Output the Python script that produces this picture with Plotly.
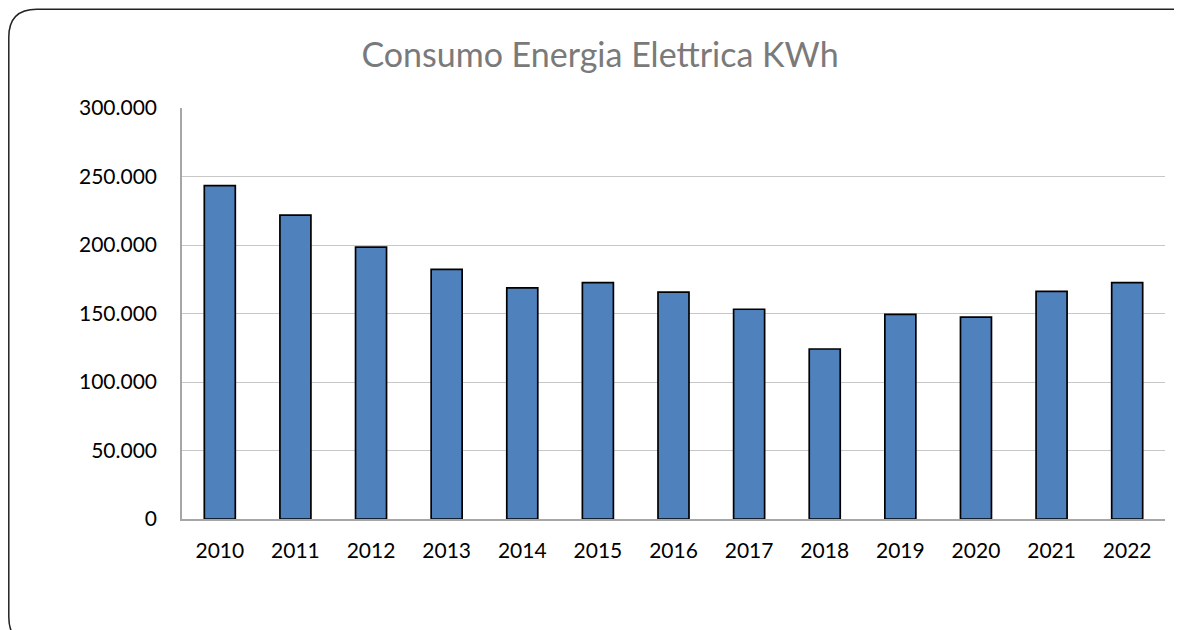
import plotly.graph_objects as go

years = ["2010", "2011", "2012", "2013", "2014", "2015", "2016", "2017", "2018", "2019", "2020", "2021", "2022"]
consumo_kwh = [243300, 221800, 198500, 182200, 168700, 172600, 165600, 153100, 124100, 149300, 147300, 166100, 172600]
y_ticks = [0, 50000, 100000, 150000, 200000, 250000, 300000]

# page body adds an 8px offset; figure extends to the window edges
W, H = 1182, 630
ML, MR, MT, MB = 174, 25, 100, 119
PW, PH = W - ML - MR, H - MT - MB

def px(x):
    return (x - ML) / PW

def py(y):
    return (H - MB - y) / PH

fig = go.Figure()
fig.add_trace(go.Bar(
    x=years, y=consumo_kwh,
    marker=dict(color="#4f81bd", line=dict(color="#000000", width=1.7)),
    width=0.41,
))

# rounded border of the chart area (figure pixel coordinates)
r = 28
x0, y0, x1, y1 = 0.8, 1.2, 1192, 637
path = (
    f"M {px(x0)},{py(y0 + r)} Q {px(x0)},{py(y0)} {px(x0 + r)},{py(y0)} "
    f"L {px(x1 - r)},{py(y0)} Q {px(x1)},{py(y0)} {px(x1)},{py(y0 + r)} "
    f"L {px(x1)},{py(y1 - r)} Q {px(x1)},{py(y1)} {px(x1 - r)},{py(y1)} "
    f"L {px(x0 + r)},{py(y1)} Q {px(x0)},{py(y1)} {px(x0)},{py(y1 - r)} Z"
)
fig.add_shape(type="path", path=path, xref="paper", yref="paper",
              line=dict(color="#222222", width=1.5), layer="below")

fig.update_layout(
    width=W, height=H,
    margin=dict(l=ML, r=MR, t=MT, b=MB),
    paper_bgcolor="white", plot_bgcolor="white",
    separators=",.",
    showlegend=False,
    title=dict(text="Consumo Energia Elettrica KWh", x=592 / W,
               xanchor="center", y=1 - 47 / H, yanchor="middle", yref="container",
               font=dict(family="Lato, Open Sans, sans-serif", size=34, color="#7a7a7a")),
    font=dict(family="Lato, Open Sans, sans-serif", size=21, color="#000000"),
    xaxis=dict(showline=True, linecolor="#a6a6a6", linewidth=1.5, showgrid=False,
               ticks="", ticklabelstandoff=12, tickfont=dict(size=21)),
    yaxis=dict(range=[0, 300000], tickvals=y_ticks, tickformat=",d",
               showline=True, linecolor="#a6a6a6", linewidth=1.5,
               showgrid=True, gridcolor="#c8c8c8", gridwidth=1.2,
               zeroline=False, ticks="", ticklabelstandoff=19, tickfont=dict(size=21)),
)

fig.write_html("out.html")
